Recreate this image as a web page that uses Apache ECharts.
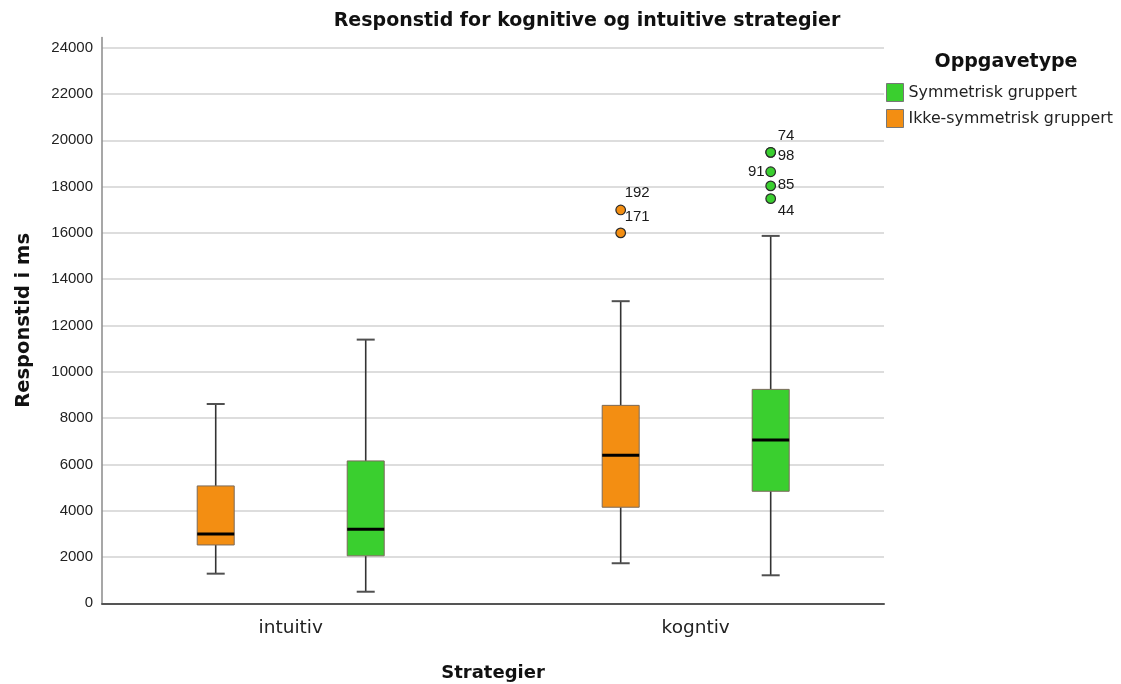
<!DOCTYPE html>
<html>
<head>
<meta charset="utf-8">
<style>
  html, body { margin: 0; padding: 0; background: #ffffff; }
  #chart { width: 1121px; height: 684px; }
</style>
<script src="https://cdn.jsdelivr.net/npm/echarts@6/dist/echarts.min.js"></script>
</head>
<body>
<div id="chart"></div>
<script>
// Strategy categories on the x axis
const categories = ['intuitiv', 'kogntiv'];

// Box statistics per category: [min, Q1, median, Q3, max] (ms)
const symmetricStats = [
  [500, 2050, 3200, 6150, 11390],
  [1210, 4840, 7050, 9240, 15870]
];
const asymmetricStats = [
  [1280, 2520, 2990, 5070, 8610],
  [1730, 4150, 6390, 8550, 13050]
];

// Outliers: case id, category index and response time (ms)
const symmetricOutlierIds = [74, 98, 91, 85, 44];
const symmetricOutlierCats = [1, 1, 1, 1, 1];
const symmetricOutlierValues = [19480, 19480, 18640, 18030, 17480];
const asymmetricOutlierIds = [192, 171];
const asymmetricOutlierCats = [1, 1];
const asymmetricOutlierValues = [16990, 16000];

const seriesNames = ['Symmetrisk gruppert', 'Ikke-symmetrisk gruppert'];

// Styling / layout
const GREEN = '#3ACF2F';
const ORANGE = '#F38E12';
const GROUP_SHIFT = 75;   // px from category centre to each box
const BOX_HALF = 18.5;
const CAP_HALF = 9;
const SANS = '"Liberation Sans", Arial, sans-serif';
const WIDE = '"DejaVu Sans", sans-serif';

// Where each outlier's case-id label sits relative to its dot: [dx, dy, align]
const labelPlacement = {
  74: [7, -16, 'left'],
  98: [7, 4, 'left'],
  91: [-6, 0, 'right'],
  85: [7, -1, 'left'],
  44: [7, 12, 'left'],
  192: [4, -17, 'left'],
  171: [4, -16, 'left']
};

function boxData(stats) {
  return stats.map((s, i) => [i].concat(s));
}
function outlierData(ids, cats, values) {
  return ids.map((id, i) => [cats[i], values[i], id]);
}

function boxRenderer(shift) {
  return function (params, api) {
    const cx = api.coord([api.value(0), 0])[0] + shift;
    const yy = i => api.coord([api.value(0), api.value(i)])[1];
    const yMin = yy(1), yQ1 = yy(2), yMed = yy(3), yQ3 = yy(4), yMax = yy(5);
    const color = api.visual('color');
    const whisker = { stroke: '#333333', lineWidth: 1.6 };
    const cap = { stroke: '#505050', lineWidth: 2 };
    return {
      type: 'group',
      children: [
        { type: 'line', shape: { x1: cx, y1: yQ3, x2: cx, y2: yMax }, style: whisker },
        { type: 'line', shape: { x1: cx, y1: yQ1, x2: cx, y2: yMin }, style: whisker },
        { type: 'line', shape: { x1: cx - CAP_HALF, y1: yMax, x2: cx + CAP_HALF, y2: yMax }, style: cap },
        { type: 'line', shape: { x1: cx - CAP_HALF, y1: yMin, x2: cx + CAP_HALF, y2: yMin }, style: cap },
        { type: 'rect', shape: { x: cx - BOX_HALF, y: yQ3, width: BOX_HALF * 2, height: yQ1 - yQ3 },
          style: { fill: color, stroke: '#7a6a5a', lineWidth: 1 } },
        { type: 'line', shape: { x1: cx - BOX_HALF, y1: yMed, x2: cx + BOX_HALF, y2: yMed },
          style: { stroke: '#000000', lineWidth: 3 } }
      ]
    };
  };
}

function outlierRenderer(shift) {
  return function (params, api) {
    const p = api.coord([api.value(0), api.value(1)]);
    const cx = p[0] + shift, cy = p[1];
    const id = api.value(2);
    const pl = labelPlacement[id] || [6, -14, 'left'];
    return {
      type: 'group',
      children: [
        { type: 'circle', shape: { cx: cx, cy: cy, r: 4.8 },
          style: { fill: api.visual('color'), stroke: '#2a2a2a', lineWidth: 1.2 } },
        { type: 'text', style: { text: String(id), x: cx + pl[0], y: cy + pl[1],
          align: pl[2], verticalAlign: 'middle', fill: '#1a1a1a', font: '15px ' + SANS } }
      ]
    };
  };
}

const chart = echarts.init(document.getElementById('chart'), null, { renderer: 'canvas' });

chart.setOption({
  backgroundColor: '#ffffff',
  animation: false,
  title: [
    {
      text: 'Responstid for kognitive og intuitive strategier',
      left: 582, top: 7, textAlign: 'center',
      textStyle: { fontFamily: WIDE, fontWeight: 'bold', fontSize: 19, color: '#111' }
    },
    {
      text: 'Oppgavetype',
      left: 1001, top: 48, textAlign: 'center',
      textStyle: { fontFamily: WIDE, fontWeight: 'bold', fontSize: 19, color: '#111' }
    }
  ],
  legend: {
    orient: 'vertical',
    left: 886, top: 83,
    padding: 0,
    icon: 'rect',
    itemWidth: 17, itemHeight: 18, itemGap: 7,
    selectedMode: false,
    itemStyle: { borderColor: '#777777', borderWidth: 1 },
    textStyle: { fontFamily: WIDE, fontSize: 15.8, color: '#222' },
    data: seriesNames
  },
  grid: { left: 102, right: 237, top: 37.5, bottom: 80.7, outerBoundsMode: 'none' },
  xAxis: {
    type: 'value',
    min: -0.466, max: 1.465,
    name: 'Strategier',
    nameLocation: 'middle',
    nameGap: 61,
    nameTextStyle: { fontFamily: WIDE, fontWeight: 'bold', fontSize: 18, color: '#111' },
    axisLine: { show: true, onZero: false, lineStyle: { color: '#555555', width: 2 } },
    axisTick: { show: false },
    splitLine: { show: false },
    axisLabel: {
      customValues: categories.map((c, i) => i),
      formatter: v => categories[Math.round(v)] || '',
      margin: 15,
      fontFamily: WIDE, fontSize: 18.5, color: '#222'
    }
  },
  yAxis: {
    type: 'value',
    min: 0, max: 24440, interval: 2000,
    name: 'Responstid i ms',
    nameLocation: 'middle',
    nameGap: 68,
    nameTextStyle: { fontFamily: WIDE, fontWeight: 'bold', fontSize: 19.5, color: '#111' },
    axisLine: { show: true, onZero: false, lineStyle: { color: '#8a8a8a', width: 1.5 } },
    axisTick: { show: false },
    axisLabel: {
      showMaxLabel: false, margin: 9,
      formatter: v => String(v),
      fontFamily: SANS, fontSize: 15, color: '#222'
    },
    splitLine: { show: true, showMaxLine: false, lineStyle: { color: '#d2d2d2', width: 1.5 } }
  },
  series: [
    {
      name: seriesNames[0], type: 'custom',
      itemStyle: { color: GREEN },
      renderItem: boxRenderer(GROUP_SHIFT),
      encode: { x: 0, y: [1, 2, 3, 4, 5] },
      data: boxData(symmetricStats), z: 3
    },
    {
      name: seriesNames[1], type: 'custom',
      itemStyle: { color: ORANGE },
      renderItem: boxRenderer(-GROUP_SHIFT),
      encode: { x: 0, y: [1, 2, 3, 4, 5] },
      data: boxData(asymmetricStats), z: 3
    },
    {
      name: seriesNames[0], type: 'custom',
      itemStyle: { color: GREEN },
      renderItem: outlierRenderer(GROUP_SHIFT),
      encode: { x: 0, y: 1 },
      data: outlierData(symmetricOutlierIds, symmetricOutlierCats, symmetricOutlierValues), z: 4
    },
    {
      name: seriesNames[1], type: 'custom',
      itemStyle: { color: ORANGE },
      renderItem: outlierRenderer(-GROUP_SHIFT),
      encode: { x: 0, y: 1 },
      data: outlierData(asymmetricOutlierIds, asymmetricOutlierCats, asymmetricOutlierValues), z: 4
    }
  ]
});
</script>
</body>
</html>
